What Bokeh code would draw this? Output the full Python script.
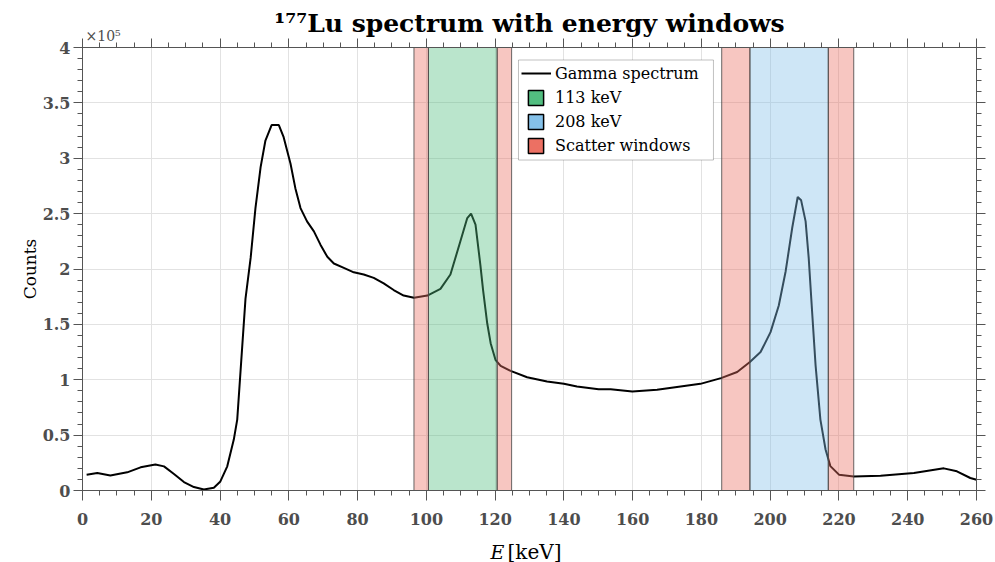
import numpy as np
from bokeh.plotting import figure
from bokeh.models import (Range1d, FixedTicker, LinearAxis, Legend, LegendItem, Label,
                          BoxAnnotation, CustomJSTickFormatter)
from bokeh.embed import file_html
from bokeh.resources import INLINE

# ---------------- data ----------------
energy_kev = [1.2, 4.3, 8.1, 13.0, 16.9, 21.2, 23.7, 26.6, 29.5, 32.4, 35.3, 38.2, 40.1, 42.1,
              44.0, 45.0, 47.4, 48.9, 50.3, 51.8, 53.2, 55.0, 57.1, 58.5, 60.5, 61.9, 63.4,
              65.3, 67.3, 69.2, 71.2, 73.1, 76.0, 78.9, 81.8, 84.7, 87.6, 90.5, 93.4, 96.4,
              100.3, 104.1, 107.0, 109.9, 111.9, 113.0, 114.3, 115.7, 116.5, 117.7, 118.7,
              120.1, 121.6, 124.5, 129.3, 135.1, 140.0, 143.8, 150.1, 153.6, 159.9, 167.1,
              172.9, 179.7, 185.7, 190.4, 194.1, 197.2, 200.1, 202.5, 204.5, 206.4, 208.0,
              209.0, 210.3, 211.2, 212.2, 213.2, 214.6, 216.1, 217.5, 220.0, 224.3, 232.1,
              241.8, 250.5, 254.3, 258.2, 260.0]
counts = [14300, 15800, 13600, 16400, 20900, 23400, 21800, 14900, 7600, 3100, 900, 2500, 8200,
          21800, 46000, 64000, 173000, 210000, 255000, 292000, 316000, 330000, 330000, 319000,
          295000, 273000, 255000, 243000, 234000, 222000, 211000, 205000, 201000, 197000,
          195000, 192000, 187000, 181000, 176000, 174000, 176000, 182000, 195000, 225000,
          246000, 250000, 240000, 204000, 181000, 151000, 133000, 118000, 112500, 108000,
          102300, 98400, 96300, 93900, 91500, 91500, 89400, 90900, 93400, 96300, 101500,
          107000, 116000, 125000, 143000, 167000, 198000, 237000, 265000, 262000, 243000,
          210000, 161000, 113000, 64000, 37000, 22000, 14300, 12700, 13400, 15800, 20000,
          17300, 11300, 9700]

peak_window_left = [100.6, 194.1]
peak_window_right = [120.6, 216.9]
peak_window_colors = ["#52BE80", "#85C1E9"]
scatter_window_left = [96.4, 120.6, 185.9, 216.9]
scatter_window_right = [100.6, 124.8, 194.1, 224.3]
scatter_color = "#EC7063"

x_ticks = list(range(0, 261, 20))
x_minor = list(range(0, 261, 5))
y_ticks = [i * 50000 for i in range(9)]
y_minor = [i * 10000 for i in range(41)]

legend_labels = ["Gamma spectrum", "113 keV", "208 keV", "Scatter windows"]
title_text = "\u00b9\u2077\u2077Lu spectrum with energy windows"
y_multiplier = "\u00d710\u2075"

# ---------------- style ----------------
AXC = "#555555"
LBLC = "#4d4d4d"
SERIF = "DejaVu Serif"

p = figure(width=995, height=562, output_backend="svg", toolbar_location=None,
           x_range=Range1d(0, 260), y_range=Range1d(0, 400000),
           min_border_left=82, min_border_right=19, min_border_top=47, min_border_bottom=72,
           background_fill_color="white", border_fill_color="white")
p.outline_line_color = AXC

p.title.text = title_text
p.title.text_font = SERIF
p.title.text_font_size = "25px"
p.title.text_font_style = "bold"
p.title.text_color = "black"
p.title.align = "center"
p.title.offset = -6
p.title.standoff = -30

p.add_layout(LinearAxis(), "above")
p.add_layout(LinearAxis(), "right")

for ax in p.xaxis:
    ax.ticker = FixedTicker(ticks=x_ticks, minor_ticks=x_minor)
for ax in p.yaxis:
    ax.ticker = FixedTicker(ticks=y_ticks, minor_ticks=y_minor)

for ax in p.axis:
    ax.axis_line_color = AXC
    ax.major_tick_line_color = AXC
    ax.minor_tick_line_color = AXC
    ax.major_tick_in = 0
    ax.major_tick_out = 9
    ax.minor_tick_in = 0
    ax.minor_tick_out = 5
    ax.major_label_text_font = SERIF
    ax.major_label_text_font_style = "bold"
    ax.major_label_text_font_size = "16px"
    ax.major_label_text_color = LBLC

p.below[0].major_label_standoff = 12
p.below[0].major_tick_out = 10

p.left[0].major_label_standoff = 3
p.left[0].formatter = CustomJSTickFormatter(code="return (tick/1e5).toString();")
p.left[0].axis_label = "Counts"
p.left[0].axis_label_text_font = SERIF
p.left[0].axis_label_text_font_style = "normal"
p.left[0].axis_label_text_font_size = "17px"
p.left[0].axis_label_text_color = "black"
p.left[0].axis_label_standoff = 0

for ax in (p.above[-1], p.right[0]):
    ax.formatter = CustomJSTickFormatter(code="return '';")
    ax.major_label_text_font_size = "0px"
    ax.major_label_standoff = 0

p.xgrid.ticker = FixedTicker(ticks=x_ticks)
p.ygrid.ticker = FixedTicker(ticks=y_ticks)
p.grid.grid_line_color = "#e2e2e2"
p.grid.grid_line_width = 1

line_r = p.line(energy_kev, counts, line_color="black", line_width=2)

p.quad(left=peak_window_left, right=peak_window_right, bottom=0, top=400000,
       fill_color=peak_window_colors, fill_alpha=0.4, line_color="#444444", line_width=1,
       line_alpha=0.8)
p.quad(left=scatter_window_left, right=scatter_window_right, bottom=0, top=400000,
       fill_color=scatter_color, fill_alpha=0.4, line_color="#444444", line_width=1,
       line_alpha=0.8)

# legend proxies (NaN coordinates: nothing drawn in the plot area)
nan1 = np.array([np.nan])
sw = []
for c in peak_window_colors + [scatter_color]:
    sw.append(p.quad(left=nan1, right=nan1, bottom=nan1, top=nan1, fill_color=c,
                     fill_alpha=1.0, line_color="black", line_width=1.5))

box = BoxAnnotation(left=126.8, right=183.5, bottom=298400, top=388700,
                    fill_color="white", fill_alpha=1.0, line_color="#333333", line_width=1)
p.add_layout(box)

leg1 = Legend(items=[LegendItem(label=legend_labels[0], renderers=[line_r])],
              location=(439, 405), glyph_width=30, glyph_height=24, label_height=24,
              label_standoff=4, padding=0, margin=0, spacing=0,
              border_line_alpha=0, background_fill_alpha=0,
              label_text_font=SERIF, label_text_font_size="16px", label_text_color="black")
leg2 = Legend(items=[LegendItem(label=legend_labels[i + 1], renderers=[sw[i]]) for i in range(3)],
              location=(444, 335), glyph_width=19, glyph_height=19, label_height=19,
              label_standoff=10, padding=0, margin=0, spacing=5,
              border_line_alpha=0, background_fill_alpha=0,
              label_text_font=SERIF, label_text_font_size="16px", label_text_color="black")
p.add_layout(leg1)
p.add_layout(leg2)


def side_label(place, x, y, text, size, color="black", style="normal"):
    # canvas pixel coordinates (x from left, y from top), placed in a side panel
    p.add_layout(Label(x=x, y=y, x_units="canvas", y_units="canvas", text=text,
                       text_font=SERIF, text_font_size=size, text_font_style=style,
                       text_color=color, text_align="left", text_baseline="alphabetic"),
                 place)


side_label("above", 85, 35, y_multiplier, "14px", color=LBLC)
side_label("left", 490, 551, "E", "19px", style="italic")
side_label("below", 507, 551, "[keV]", "20px")

open("out.html", "w").write(file_html(p, INLINE))
